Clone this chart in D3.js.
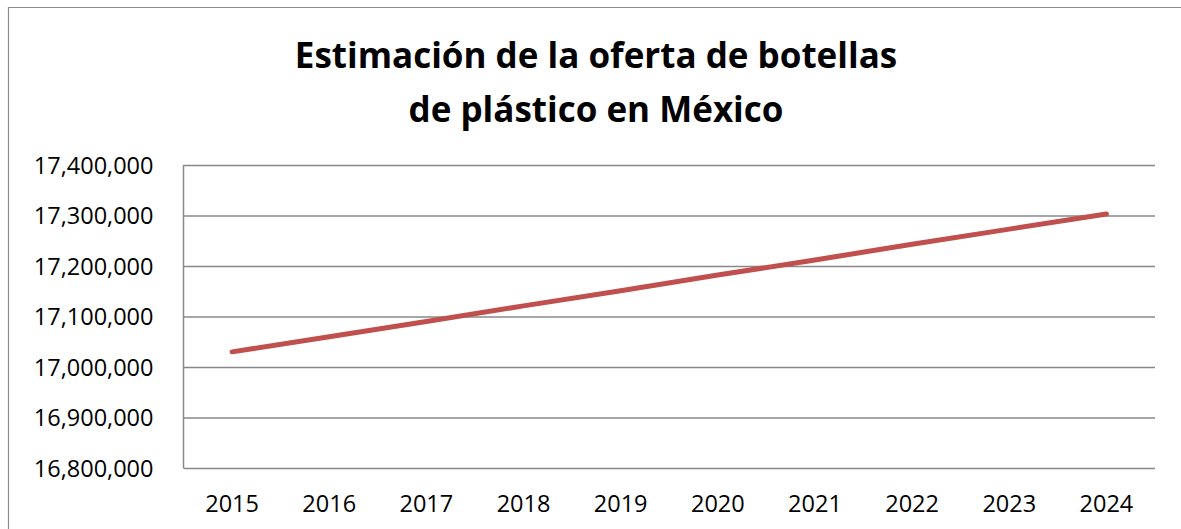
<!DOCTYPE html>
<html lang="es">
<head>
<meta charset="UTF-8">
<title>Oferta de botellas</title>
<script src="https://d3js.org/d3.v7.min.js"></script>
<style>
    body{ margin:0; background:#fff; }
    .chart text{ font-family:"Open Sans", sans-serif; fill:#000; }
    .title{ font-weight:bold; font-size:35px; }
    .tick text{ font-size:23.5px; }
</style>
</head>
<body>
<svg class="chart"></svg>
<script>
    // data
    const years = ['2015','2016','2017','2018','2019','2020','2021','2022','2023','2024'];
    const oferta = [17030000,17060000,17090000,17121000,17151000,17182000,17212000,17243000,17273000,17303000];
    const yTicks = [16800000,16900000,17000000,17100000,17200000,17300000,17400000];
    const titleLines = ['Estimación de la oferta de botellas','de plástico en México'];

    const W = 1181, H = 529;
    const margin = {top:165, right:26, bottom:61, left:183.5};
    const width = W - margin.left - margin.right;
    const height = H - margin.top - margin.bottom;

    const svg = d3.select('.chart').attr('width',W).attr('height',H);

    // outer frame (only top and left visible)
    svg.append('path')
        .attr('d','M8.5,'+H+' V7.5 H'+W)
        .attr('fill','none')
        .attr('stroke','#8c8c8c')
        .attr('stroke-width',1.2);

    svg.selectAll('.title')
        .data(titleLines).enter()
        .append('text')
        .attr('class','title')
        .attr('x',596)
        .attr('y',(d,i)=>68+i*54)
        .attr('text-anchor','middle')
        .text(d=>d);

    const x = d3.scaleBand().domain(years).range([0,width]);
    const y = d3.scaleLinear().domain([16800000,17400000]).range([height,0]);

    const g = svg.append('g')
        .attr('transform','translate('+margin.left+','+margin.top+')');

    const fmt = d3.format(',');

    // y axis with gridlines
    const yAxis = g.append('g')
        .call(d3.axisLeft(y).tickValues(yTicks).tickSize(-width).tickSizeOuter(0).tickFormat(fmt).tickPadding(30));
    yAxis.select('.domain').remove();
    yAxis.selectAll('.tick line').attr('stroke','#888').attr('stroke-width',1.5);
    yAxis.selectAll('.tick text').attr('dy','0.35em');

    // left axis line
    g.append('line')
        .attr('x1',0).attr('x2',0)
        .attr('y1',0).attr('y2',height)
        .attr('stroke','#888').attr('stroke-width',1.5);

    // x axis
    const xAxis = g.append('g')
        .attr('transform','translate(0,'+height+')')
        .call(d3.axisBottom(x).tickSize(0).tickPadding(27));
    xAxis.select('.domain').remove();

    const line = d3.line()
        .x((d,i)=>x(years[i])+x.bandwidth()/2)
        .y(d=>y(d));

    g.append('path')
        .datum(oferta)
        .attr('d',line)
        .attr('fill','none')
        .attr('stroke','#c0504d')
        .attr('stroke-width',5)
        .attr('stroke-linecap','round');
</script>
</body>
</html>
